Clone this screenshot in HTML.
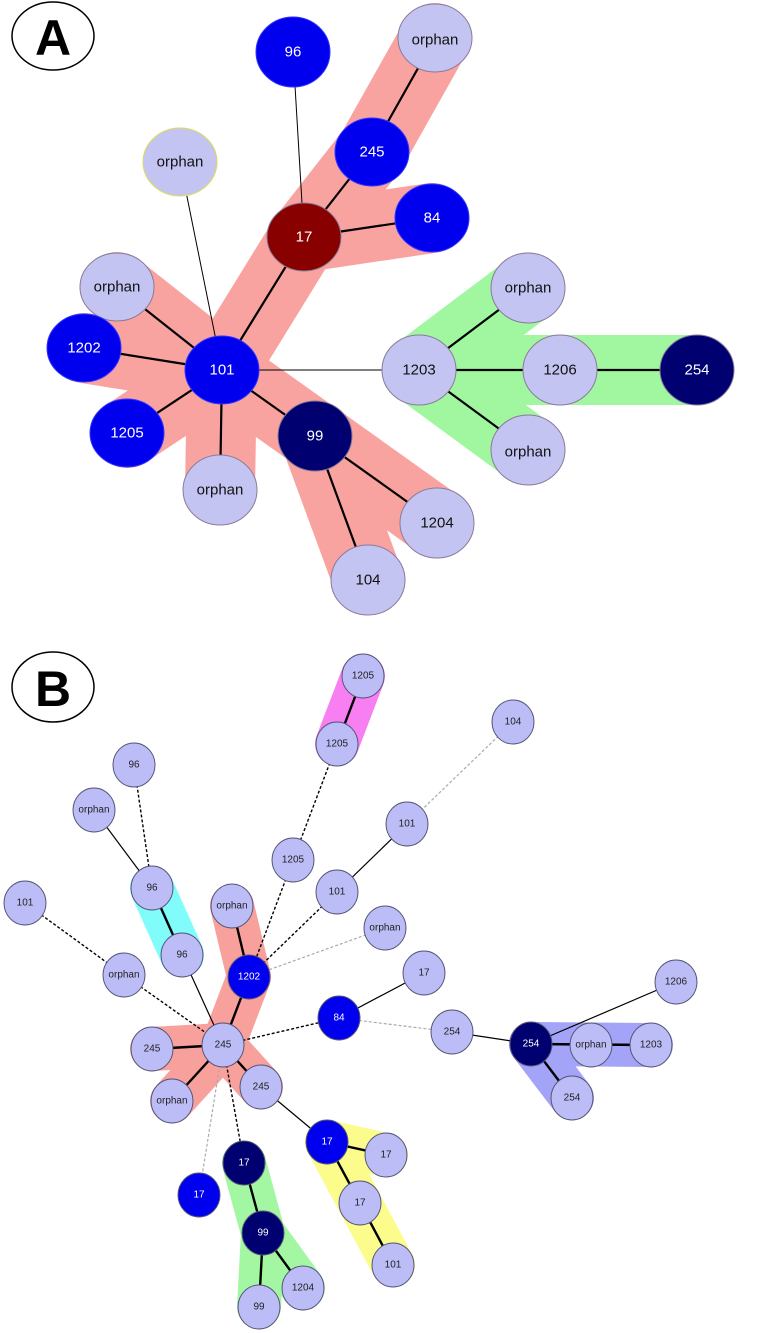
<!DOCTYPE html>
<html><head><meta charset="utf-8"><style>
html,body{margin:0;padding:0;background:#fff;}
svg{display:block;}
text{font-family:"Liberation Sans",sans-serif;text-anchor:middle;dominant-baseline:central;}
</style></head><body>
<svg width="771" height="1333" viewBox="0 0 771 1333" xmlns="http://www.w3.org/2000/svg">
<!-- Panel A labels -->
<ellipse cx="53" cy="36" rx="41" ry="34" fill="#fff" stroke="#000" stroke-width="1.5"/>
<text x="53" y="38" font-size="50" font-weight="bold">A</text>

<!-- A hulls -->
<g stroke="#f9a3a0" stroke-linecap="round" fill="none" stroke-width="70">
<line x1="222" y1="370" x2="117" y2="287"/>
<line x1="222" y1="370" x2="84" y2="348"/>
<line x1="222" y1="370" x2="127" y2="433"/>
<line x1="222" y1="370" x2="220" y2="490"/>
<line x1="222" y1="370" x2="315" y2="436"/>
<line x1="315" y1="436" x2="437" y2="523"/>
<line x1="315" y1="436" x2="368" y2="580"/>
<line x1="222" y1="370" x2="304" y2="237"/>
<line x1="304" y1="237" x2="372" y2="150"/>
<line x1="372" y1="150" x2="435" y2="38"/>
<line x1="304" y1="237" x2="432" y2="218"/>
</g>
<g stroke="#a0f7a0" stroke-linecap="round" fill="none" stroke-width="70">
<line x1="419" y1="370" x2="528" y2="288"/>
<line x1="419" y1="370" x2="528" y2="450"/>
<line x1="419" y1="370" x2="697" y2="370"/>
</g>
<!-- A edges -->
<g stroke="#000" stroke-width="1">
<line x1="293" y1="52" x2="304" y2="237"/>
<line x1="180" y1="162" x2="222" y2="370"/>
<line x1="222" y1="370" x2="419" y2="370"/>
</g>
<g stroke="#000" stroke-width="2.2">
<line x1="222" y1="370" x2="117" y2="287"/>
<line x1="222" y1="370" x2="84" y2="348"/>
<line x1="222" y1="370" x2="127" y2="433"/>
<line x1="222" y1="370" x2="220" y2="490"/>
<line x1="222" y1="370" x2="315" y2="436"/>
<line x1="315" y1="436" x2="437" y2="523"/>
<line x1="315" y1="436" x2="368" y2="580"/>
<line x1="222" y1="370" x2="304" y2="237"/>
<line x1="304" y1="237" x2="372" y2="150"/>
<line x1="372" y1="150" x2="435" y2="38"/>
<line x1="304" y1="237" x2="432" y2="218"/>
<line x1="419" y1="370" x2="528" y2="288"/>
<line x1="419" y1="370" x2="528" y2="450"/>
<line x1="419" y1="370" x2="697" y2="370"/>
</g>
<!-- A nodes -->
<g stroke="#8a7a9a" stroke-width="1" font-size="15">
<ellipse cx="293" cy="52" rx="37" ry="35" fill="#0000ee" stroke="#3333ff"/><text x="293" y="52" fill="#fff" stroke="none">96</text>
<ellipse cx="435" cy="38" rx="37" ry="34" fill="#c4c4f2"/><text x="435" y="40" fill="#111" stroke="none">orphan</text>
<ellipse cx="372" cy="152" rx="37" ry="34" fill="#0000ee" stroke="#3333ff"/><text x="372" y="152" fill="#fff" stroke="none">245</text>
<ellipse cx="432" cy="218" rx="37" ry="34" fill="#0000ee" stroke="#3333ff"/><text x="432" y="218" fill="#fff" stroke="none">84</text>
<ellipse cx="304" cy="265" rx="37" ry="34" fill="#880000" transform="translate(0,-28)"/><text x="304" y="237" fill="#fff" stroke="none">17</text>
<ellipse cx="180" cy="190" rx="37" ry="34" fill="#c4c4f2" stroke="#dddd55" transform="translate(0,-28)"/><text x="180" y="162" fill="#111" stroke="none">orphan</text>
<ellipse cx="117" cy="287" rx="37" ry="34" fill="#c4c4f2"/><text x="117" y="287" fill="#111" stroke="none">orphan</text>
<ellipse cx="84" cy="348" rx="37" ry="34" fill="#0000ee" stroke="#3333ff"/><text x="84" y="348" fill="#fff" stroke="none">1202</text>
<ellipse cx="222" cy="370" rx="37" ry="34" fill="#0000ee" stroke="#3333ff"/><text x="222" y="370" fill="#fff" stroke="none">101</text>
<ellipse cx="127" cy="433" rx="37" ry="34" fill="#0000ee" stroke="#3333ff"/><text x="127" y="433" fill="#fff" stroke="none">1205</text>
<ellipse cx="220" cy="490" rx="37" ry="35" fill="#c4c4f2"/><text x="220" y="490" fill="#111" stroke="none">orphan</text>
<ellipse cx="315" cy="436" rx="37" ry="35" fill="#000070"/><text x="315" y="436" fill="#fff" stroke="none">99</text>
<ellipse cx="437" cy="523" rx="37" ry="35" fill="#c4c4f2"/><text x="437" y="523" fill="#111" stroke="none">1204</text>
<ellipse cx="368" cy="580" rx="37" ry="35" fill="#c4c4f2"/><text x="368" y="580" fill="#111" stroke="none">104</text>
<ellipse cx="419" cy="370" rx="37" ry="35" fill="#c4c4f2"/><text x="419" y="370" fill="#111" stroke="none">1203</text>
<ellipse cx="528" cy="288" rx="37" ry="35" fill="#c4c4f2"/><text x="528" y="288" fill="#111" stroke="none">orphan</text>
<ellipse cx="560" cy="370" rx="37" ry="35" fill="#c4c4f2"/><text x="560" y="370" fill="#111" stroke="none">1206</text>
<ellipse cx="528" cy="450" rx="37" ry="35" fill="#c4c4f2"/><text x="528" y="452" fill="#111" stroke="none">orphan</text>
<ellipse cx="697" cy="370" rx="37" ry="35" fill="#000070"/><text x="697" y="370" fill="#fff" stroke="none">254</text>
</g>

<!-- Panel B -->
<ellipse cx="53" cy="687" rx="41" ry="35" fill="#fff" stroke="#000" stroke-width="1.5"/>
<text x="53" y="689" font-size="50" font-weight="bold">B</text>

<!-- B hulls -->
<g stroke-linecap="round" fill="none" stroke-width="44">
<line x1="363" y1="676" x2="337" y2="744" stroke="#f77ff2"/>
<line x1="152" y1="888" x2="182" y2="955" stroke="#80fcfa"/>
<g stroke="#f7a09c">
<line x1="232" y1="906" x2="249" y2="977"/>
<line x1="249" y1="977" x2="223" y2="1045"/>
<line x1="223" y1="1045" x2="152" y2="1049"/>
<line x1="223" y1="1045" x2="172" y2="1101"/>
<line x1="223" y1="1045" x2="261" y2="1087"/>
</g>
<g stroke="#a3a3f7">
<line x1="531" y1="1044" x2="651" y2="1045"/>
<line x1="531" y1="1044" x2="572" y2="1098"/>
</g>
<g stroke="#fcfc8c">
<line x1="327" y1="1142" x2="386" y2="1155"/>
<line x1="327" y1="1142" x2="393" y2="1265"/>
</g>
<g stroke="#a3f7a3">
<line x1="244" y1="1163" x2="263" y2="1233"/>
<line x1="263" y1="1233" x2="303" y2="1288"/>
<line x1="263" y1="1233" x2="259" y2="1307"/>
</g>
</g>

<!-- B edges solid thick -->
<g stroke="#000" stroke-width="2.4">
<line x1="363" y1="676" x2="337" y2="744"/>
<line x1="152" y1="888" x2="182" y2="955"/>
<line x1="232" y1="906" x2="249" y2="977"/>
<line x1="249" y1="977" x2="223" y2="1045"/>
<line x1="223" y1="1045" x2="152" y2="1049"/>
<line x1="223" y1="1045" x2="172" y2="1101"/>
<line x1="223" y1="1045" x2="261" y2="1087"/>
<line x1="531" y1="1044" x2="651" y2="1045"/>
<line x1="531" y1="1044" x2="572" y2="1098"/>
<line x1="327" y1="1142" x2="386" y2="1155"/>
<line x1="327" y1="1142" x2="360" y2="1203"/>
<line x1="360" y1="1203" x2="393" y2="1265"/>
<line x1="244" y1="1163" x2="263" y2="1233"/>
<line x1="263" y1="1233" x2="303" y2="1288"/>
<line x1="263" y1="1233" x2="259" y2="1307"/>
</g>
<g stroke="#000" stroke-width="1.2">
<line x1="94" y1="810" x2="152" y2="888"/>
<line x1="337" y1="892" x2="407" y2="824"/>
<line x1="339" y1="1018" x2="424" y2="973"/>
<line x1="452" y1="1032" x2="531" y2="1044"/>
<line x1="531" y1="1044" x2="676" y2="982"/>
<line x1="182" y1="955" x2="223" y2="1045"/>
<line x1="261" y1="1087" x2="327" y2="1142"/>
</g>
<g stroke="#000" stroke-width="1.4" stroke-dasharray="3,2">
<line x1="134" y1="765" x2="152" y2="888"/>
<line x1="337" y1="744" x2="293" y2="860"/>
<line x1="293" y1="860" x2="249" y2="977"/>
<line x1="337" y1="892" x2="249" y2="977"/>
<line x1="25" y1="903" x2="124" y2="975"/>
<line x1="124" y1="975" x2="223" y2="1045"/>
<line x1="223" y1="1045" x2="339" y2="1018"/>
<line x1="223" y1="1045" x2="244" y2="1163"/>
</g>
<g stroke="#aaa" stroke-width="1.2" stroke-dasharray="3,2">
<line x1="513" y1="722" x2="407" y2="824"/>
<line x1="385" y1="928" x2="249" y2="977"/>
<line x1="339" y1="1018" x2="452" y2="1032"/>
<line x1="223" y1="1045" x2="199" y2="1195"/>
</g>

<!-- B nodes -->
<g stroke="#555577" stroke-width="1" font-size="10">
<g fill="#bcbcf7">
<ellipse cx="363" cy="676" rx="21" ry="22"/><ellipse cx="337" cy="744" rx="21" ry="22"/>
<ellipse cx="134" cy="765" rx="21" ry="22"/><ellipse cx="94" cy="810" rx="21" ry="22"/>
<ellipse cx="293" cy="860" rx="21" ry="22"/><ellipse cx="407" cy="824" rx="21" ry="22"/>
<ellipse cx="152" cy="888" rx="21" ry="22"/><ellipse cx="25" cy="903" rx="21" ry="22"/>
<ellipse cx="232" cy="906" rx="21" ry="22"/><ellipse cx="337" cy="892" rx="21" ry="22"/>
<ellipse cx="385" cy="928" rx="21" ry="22"/><ellipse cx="182" cy="955" rx="21" ry="22"/>
<ellipse cx="124" cy="975" rx="21" ry="22"/><ellipse cx="424" cy="973" rx="21" ry="22"/>
<ellipse cx="223" cy="1045" rx="21" ry="22"/><ellipse cx="152" cy="1049" rx="21" ry="22"/>
<ellipse cx="452" cy="1032" rx="21" ry="22"/><ellipse cx="591" cy="1045" rx="21" ry="22"/>
<ellipse cx="651" cy="1045" rx="21" ry="22"/><ellipse cx="676" cy="982" rx="21" ry="22"/>
<ellipse cx="572" cy="1098" rx="21" ry="22"/><ellipse cx="261" cy="1087" rx="21" ry="22"/>
<ellipse cx="172" cy="1101" rx="21" ry="22"/><ellipse cx="386" cy="1155" rx="21" ry="22"/>
<ellipse cx="360" cy="1203" rx="21" ry="22"/><ellipse cx="393" cy="1265" rx="21" ry="22"/>
<ellipse cx="303" cy="1288" rx="21" ry="22"/><ellipse cx="259" cy="1307" rx="21" ry="22"/>
<ellipse cx="513" cy="722" rx="21" ry="22"/>
</g>
<g fill="#0000ee">
<ellipse cx="249" cy="977" rx="21" ry="22"/><ellipse cx="339" cy="1018" rx="21" ry="22"/>
<ellipse cx="327" cy="1142" rx="21" ry="22"/><ellipse cx="199" cy="1195" rx="21" ry="22"/>
</g>
<g fill="#000070">
<ellipse cx="531" cy="1044" rx="21" ry="22"/><ellipse cx="244" cy="1163" rx="21" ry="22"/>
<ellipse cx="263" cy="1233" rx="21" ry="22"/>
</g>
</g>
<g font-size="10" fill="#222">
<text x="363" y="676">1205</text><text x="337" y="744">1205</text>
<text x="134" y="765">96</text><text x="94" y="810">orphan</text>
<text x="293" y="860">1205</text><text x="407" y="824">101</text>
<text x="152" y="888">96</text><text x="25" y="903">101</text>
<text x="232" y="906">orphan</text><text x="337" y="892">101</text>
<text x="385" y="928">orphan</text><text x="182" y="955">96</text>
<text x="124" y="975">orphan</text><text x="424" y="973">17</text>
<text x="223" y="1045">245</text><text x="152" y="1049">245</text>
<text x="452" y="1032">254</text><text x="591" y="1045">orphan</text>
<text x="651" y="1045">1203</text><text x="676" y="982">1206</text>
<text x="572" y="1098">254</text><text x="261" y="1087">245</text>
<text x="172" y="1101">orphan</text><text x="386" y="1155">17</text>
<text x="360" y="1203">17</text><text x="393" y="1265">101</text>
<text x="303" y="1288">1204</text><text x="259" y="1307">99</text>
<text x="513" y="722">104</text>
</g>
<g font-size="10" fill="#fff">
<text x="249" y="977">1202</text><text x="339" y="1018">84</text>
<text x="327" y="1142">17</text><text x="199" y="1195">17</text>
<text x="531" y="1044">254</text><text x="244" y="1163">17</text>
<text x="263" y="1233">99</text>
</g>
</svg>
</body></html>
